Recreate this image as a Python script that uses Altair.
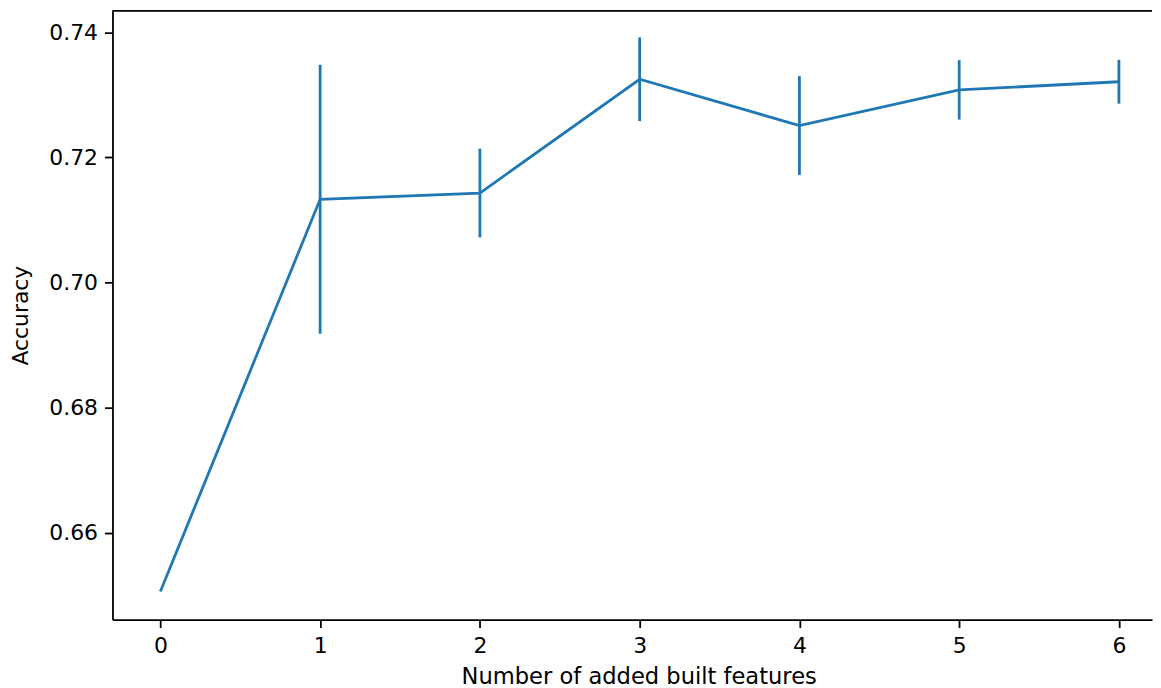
import altair as alt
import pandas as pd

# Data
features = [0, 1, 2, 3, 4, 5, 6]
accuracy = [0.6506, 0.7133, 0.7143, 0.7325, 0.7251, 0.7308, 0.7321]
std_err = [0.0, 0.0215, 0.0071, 0.0067, 0.0079, 0.00475, 0.0035]
x_ticks = [0, 1, 2, 3, 4, 5, 6]
y_ticks = [0.66, 0.68, 0.70, 0.72, 0.74]

df = pd.DataFrame({"n": features, "acc": accuracy, "err": std_err})

BLUE = "#1f77b4"
W, H = 1045, 612
FONT = "DejaVu Sans"
FS = 22

x_scale = alt.Scale(domain=[-0.3, 6.207], nice=False, zero=False)
y_scale = alt.Scale(domain=[0.6461, 0.74345], nice=False, zero=False)

x_enc = alt.X(
    "n:Q", scale=x_scale,
    axis=alt.Axis(values=x_ticks, format="d", title="Number of added built features",
                  labelPadding=8, titlePadding=9, labelAngle=0, titleFontSize=22.7,
                  titleX=529, titleAnchor="middle"),
)
y_enc = alt.Y(
    "acc:Q", scale=y_scale,
    axis=alt.Axis(values=y_ticks, format=".2f", title="Accuracy",
                  labelPadding=7, titlePadding=16),
)

base = alt.Chart(df)

line = base.mark_line(color=BLUE, strokeWidth=2.8).encode(x=x_enc, y=y_enc)

errbars = base.transform_calculate(
    lo="datum.acc - datum.err", hi="datum.acc + datum.err"
).mark_rule(color=BLUE, strokeWidth=2.8).encode(
    x=alt.X("n:Q", scale=x_scale),
    y=alt.Y("lo:Q", scale=y_scale),
    y2="hi:Q",
)

top_spine = alt.Chart(pd.DataFrame({"k": [0]})).mark_rule(
    color="black", strokeWidth=1.8
).encode(x=alt.value(0), x2=alt.value(W), y=alt.value(0))

chart = alt.layer(errbars, line, top_spine).properties(
    width=W, height=H, padding={"left": 2, "top": 0, "right": 0, "bottom": 0}
).configure_view(stroke=None).configure_axis(
    labelFont=FONT, titleFont=FONT, labelFontSize=FS, titleFontSize=FS,
    labelColor="black", titleColor="black", tickColor="black", domainColor="black",
    tickWidth=1.8, domainWidth=1.8, tickSize=8, grid=False, titleFontWeight="normal",
)

chart.save("out.html", embed_options={"renderer": "svg", "actions": False})
